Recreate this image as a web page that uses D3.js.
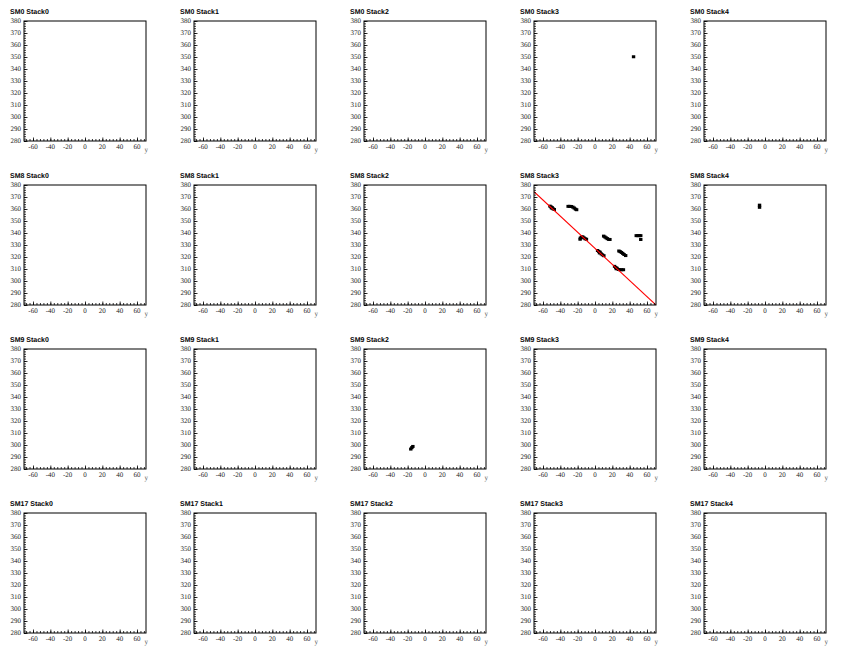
<!DOCTYPE html>
<html>
<head>
<meta charset="utf-8">
<script src="https://cdn.jsdelivr.net/npm/d3@7"></script>
<style>
  html, body { margin: 0; padding: 0; background: #fff; }
  svg { display: block; }
  text { text-rendering: geometricPrecision; }
</style>
</head>
<body>
<svg id="chart" width="851" height="656"></svg>
<script>
// ---- data ----
const modules = ["SM0", "SM8", "SM9", "SM17"];
const stacks = ["Stack0", "Stack1", "Stack2", "Stack3", "Stack4"];
const xDomain = [-70.4, 70.4];
const yDomain = [280, 380];
const xTickValues = [-60, -40, -20, 0, 20, 40, 60];
const yTickValues = [280, 290, 300, 310, 320, 330, 340, 350, 360, 370, 380];
const xAxisTitle = "y";

// hits per panel: [x (y-coordinate), value]
const hitsSM0Stack3 = [[44.5, 350.2]];
const hitsSM8Stack3 = [
  [-52, 362.4], [-50.8, 361.8], [-50.2, 360.8], [-49.5, 361.2], [-48.4, 360.2], [-47, 359.6],
  [-31, 362.2], [-29.2, 362.2], [-27.4, 362.1], [-25.6, 361.6], [-24, 360.8], [-22.5, 359.9], [-21.2, 359.4],
  [-17.2, 334.8], [-16.8, 335.8], [-15.6, 336.6], [-14.2, 336.8], [-12.8, 336], [-11.4, 335.2], [-9.9, 334.8],
  [10, 337.4], [11.4, 336.7], [12.8, 336], [14.2, 335.3], [15.7, 334.7], [17.2, 334.6],
  [3, 325.4], [4.4, 324.6], [5.2, 323.4], [5.8, 324], [7.2, 322.6], [8.6, 321.8], [10.2, 321.1],
  [27.6, 325], [29, 324.5], [30.5, 323.8], [32, 323], [33.5, 322.1], [35.4, 321.2],
  [22.6, 312.2], [24, 311.2], [24.6, 310.2], [25.4, 310.6], [27, 309.6], [28.8, 309.4], [30.8, 309.4], [32.8, 309.4],
  [47.6, 337.8], [49.4, 337.8], [51.2, 337.8], [52.8, 337.8], [52.8, 334.6]
];
const hitsSM8Stack4 = [[-6.3, 361.4], [-6.3, 363.2]];
const hitsSM9Stack2 = [[-16.4, 296.6], [-15.2, 297.8], [-14, 298.8]];
const hits = [
  { module: "SM0", stack: "Stack3", points: hitsSM0Stack3 },
  { module: "SM8", stack: "Stack3", points: hitsSM8Stack3 },
  { module: "SM8", stack: "Stack4", points: hitsSM8Stack4 },
  { module: "SM9", stack: "Stack2", points: hitsSM9Stack2 }
];
// fitted track line in SM8 Stack3
const fitModule = "SM8", fitStack = "Stack3";
const fitX = [-70.4, 70.4];
const fitY = [374.4, 280];

// ---- layout ----
const left0 = 24, top0 = 21, colPitch = 170, rowPitch = 164;
const pw = 122, ph = 120;
const svg = d3.select("#chart");

const x = d3.scaleLinear().domain(xDomain).range([0, pw]);
const y = d3.scaleLinear().domain(yDomain).range([ph, 0]);
const xMinor = d3.range(-68, 70, 4);
const yMinor = d3.range(280, 381, 2);

modules.forEach((m, r) => {
  stacks.forEach((s, c) => {
    const g = svg.append("g")
      .attr("transform", `translate(${left0 + c * colPitch},${top0 + r * rowPitch})`);

    // title
    g.append("text")
      .attr("x", -14).attr("y", -7.5)
      .attr("font-family", "Liberation Sans, Arial, sans-serif")
      .attr("font-weight", "bold")
      .attr("font-size", 7)
      .attr("fill", "#000")
      .text(`${m} ${s}`);

    const clipId = `clip-${m}-${s}`;
    g.append("clipPath").attr("id", clipId)
      .append("rect").attr("width", pw).attr("height", ph);

    const plot = g.append("g").attr("clip-path", `url(#${clipId})`);

    // hits
    const entry = hits.find(h => h.module === m && h.stack === s);
    if (entry) {
      plot.selectAll("rect.hit").data(entry.points).enter().append("rect")
        .attr("class", "hit")
        .attr("x", d => x(d[0]) - 1.7)
        .attr("y", d => y(d[1]) - 1.5)
        .attr("width", 3.4)
        .attr("height", 3.0)
        .attr("fill", "#000");
    }
    if (m === fitModule && s === fitStack) {
      const line = d3.line().x(d => x(d[0])).y(d => y(d[1]));
      plot.append("path")
        .datum(fitX.map((v, i) => [v, fitY[i]]))
        .attr("d", line)
        .attr("fill", "none")
        .attr("stroke", "#ff0000")
        .attr("stroke-width", 1.1);
    }

    // ticks (inside, ROOT style)
    const xAxis = d3.axisTop(x).tickValues(xTickValues).tickSize(3.5).tickFormat("");
    const xAxisMinor = d3.axisTop(x).tickValues(xMinor).tickSize(2).tickFormat("");
    const yAxis = d3.axisRight(y).tickValues(yTickValues).tickSize(3.5).tickFormat("");
    const yAxisMinor = d3.axisRight(y).tickValues(yMinor).tickSize(2).tickFormat("");
    [xAxis, xAxisMinor].forEach(a => {
      const ag = g.append("g").attr("transform", `translate(0,${ph})`).call(a);
      ag.select(".domain").remove();
      ag.selectAll("line").attr("stroke", "#000").attr("stroke-width", 0.8);
    });
    [yAxis, yAxisMinor].forEach(a => {
      const ag = g.append("g").call(a);
      ag.select(".domain").remove();
      ag.selectAll("line").attr("stroke", "#000").attr("stroke-width", 0.8);
    });

    // frame
    g.append("rect")
      .attr("x", 0).attr("y", 0).attr("width", pw).attr("height", ph)
      .attr("fill", "none").attr("stroke", "#000").attr("stroke-width", 1);

    // tick labels
    const lblFont = "Liberation Serif, Times New Roman, serif";
    g.selectAll("text.xl").data(xTickValues).enter().append("text")
      .attr("class", "xl")
      .attr("x", d => x(d)).attr("y", ph + 8)
      .attr("text-anchor", "middle")
      .attr("font-family", lblFont).attr("font-size", 7).attr("fill", "#222")
      .text(d => d);
    g.selectAll("text.yl").data(yTickValues).enter().append("text")
      .attr("class", "yl")
      .attr("x", -3).attr("y", d => y(d) + 2.4)
      .attr("text-anchor", "end")
      .attr("font-family", lblFont).attr("font-size", 7).attr("fill", "#222")
      .text(d => d);
    g.append("text")
      .attr("x", pw + 2).attr("y", ph + 11)
      .attr("text-anchor", "end")
      .attr("font-family", lblFont).attr("font-size", 7).attr("fill", "#555")
      .text(xAxisTitle);
  });
});
</script>
</body>
</html>
